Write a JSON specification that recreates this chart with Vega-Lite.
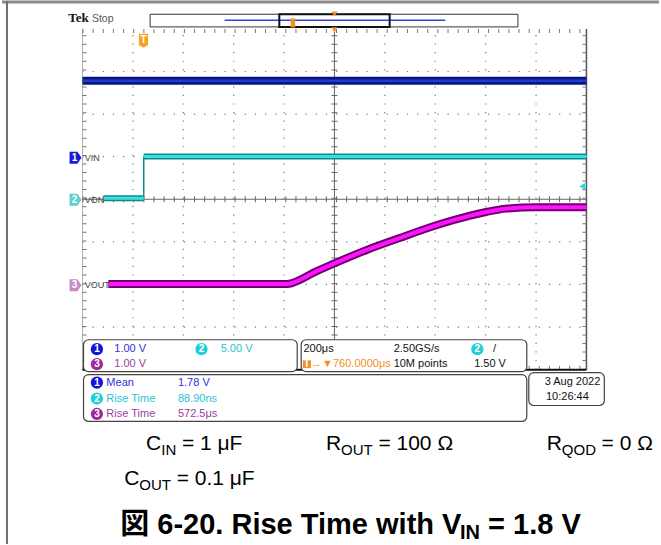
{
  "$schema": "https://vega.github.io/schema/vega-lite/v6.json",
  "width": 661,
  "height": 545,
  "autosize": {"type": "fit", "contains": "padding"},
  "padding": 0,
  "background": "white",
  "config": {"view": {"stroke": null}},
  "datasets": {
    "segs": [
      {"kind": "frameT", "x": -559.5, "y": 4.632, "x2": 2048, "y2": 4.632},
      {"kind": "frameL", "x": -539.8, "y": 4.655, "x2": -539.8, "y2": -8.094},
      {"kind": "vgrid", "x": -40, "y": -4, "x2": -40, "y2": 4},
      {"kind": "vgrid", "x": 160, "y": -4, "x2": 160, "y2": 4},
      {"kind": "vgrid", "x": 360, "y": -4, "x2": 360, "y2": 4},
      {"kind": "vgrid", "x": 560, "y": -4, "x2": 560, "y2": 4},
      {"kind": "vgrid", "x": 960, "y": -4, "x2": 960, "y2": 4},
      {"kind": "vgrid", "x": 1160, "y": -4, "x2": 1160, "y2": 4},
      {"kind": "vgrid", "x": 1360, "y": -4, "x2": 1360, "y2": 4},
      {"kind": "vgrid", "x": 1560, "y": -4, "x2": 1560, "y2": 4},
      {"kind": "hgrid", "x": -240, "y": 3, "x2": 1760, "y2": 3},
      {"kind": "hgrid", "x": -240, "y": 2, "x2": 1760, "y2": 2},
      {"kind": "hgrid", "x": -240, "y": 1, "x2": 1760, "y2": 1},
      {"kind": "hgrid", "x": -240, "y": -1, "x2": 1760, "y2": -1},
      {"kind": "hgrid", "x": -240, "y": -2, "x2": 1760, "y2": -2},
      {"kind": "hgrid", "x": -240, "y": -3, "x2": 1760, "y2": -3},
      {"kind": "center", "x": 760, "y": -4, "x2": 760, "y2": 4},
      {"kind": "center", "x": -240, "y": 0, "x2": 1760, "y2": 0},
      {"kind": "ht6", "x": -240, "y": 0, "x2": 1760, "y2": 0},
      {"kind": "vt6", "x": 760, "y": -4, "x2": 760, "y2": 4},
      {"kind": "ht3", "x": -240, "y": 3.953, "x2": 1760, "y2": 3.953},
      {"kind": "ht3", "x": -240, "y": -3.953, "x2": 1760, "y2": -3.953},
      {"kind": "vt3", "x": -232.1, "y": -4, "x2": -232.1, "y2": 4},
      {"kind": "vt3", "x": 1752.1, "y": -4, "x2": 1752.1, "y2": 4},
      {"kind": "edgeL", "x": -240, "y": -4, "x2": -240, "y2": 4},
      {"kind": "edgeR", "x": 1760, "y": -4, "x2": 1760, "y2": 4},
      {"kind": "bot", "x": -240, "y": -4, "x2": 1760, "y2": -4},
      {"kind": "rise", "x": 3, "y": 0.023, "x2": 3, "y2": 1.006},
      {"kind": "recline", "x": 324.1, "y": 4.204, "x2": 1199.9, "y2": 4.204}
    ],
    "traces": [
      {"ch": "1", "seg": "a", "x": -240, "y": 2.784},
      {"ch": "1", "seg": "a", "x": 1760, "y": 2.784},
      {"ch": "2", "seg": "lo", "x": -157.1, "y": 0.023},
      {"ch": "2", "seg": "lo", "x": 3, "y": 0.023},
      {"ch": "2", "seg": "hi", "x": 3, "y": 1.006},
      {"ch": "2", "seg": "hi", "x": 1760, "y": 1.006},
      {"ch": "3", "seg": "a", "x": -137.4, "y": -1.99},
      {"ch": "3", "seg": "a", "x": 572.7, "y": -1.99},
      {"ch": "3", "seg": "a", "x": 623.8, "y": -1.89},
      {"ch": "3", "seg": "a", "x": 675.2, "y": -1.73},
      {"ch": "3", "seg": "a", "x": 762.0, "y": -1.5},
      {"ch": "3", "seg": "a", "x": 888.2, "y": -1.19},
      {"ch": "3", "seg": "a", "x": 1018.4, "y": -0.91},
      {"ch": "3", "seg": "a", "x": 1164.4, "y": -0.61},
      {"ch": "3", "seg": "a", "x": 1294.6, "y": -0.39},
      {"ch": "3", "seg": "a", "x": 1361.6, "y": -0.3},
      {"ch": "3", "seg": "a", "x": 1440.5, "y": -0.22},
      {"ch": "3", "seg": "a", "x": 1558.9, "y": -0.19},
      {"ch": "3", "seg": "a", "x": 1760, "y": -0.19}
    ],
    "boxes": [
      {"kind": "rec", "x": 28.3, "y": 4.344, "x2": 1488.2, "y2": 4.047},
      {"kind": "bracket", "x": 541.1, "y": 4.344, "x2": 979, "y2": 4.047},
      {"kind": "panel", "x": -236.0, "y": -3.298, "x2": 612.1, "y2": -4.047},
      {"kind": "panel", "x": 627.9, "y": -3.298, "x2": 1523.3, "y2": -4.047},
      {"kind": "panel", "x": -236.0, "y": -4.117, "x2": 1523.3, "y2": -5.216},
      {"kind": "panel", "x": 1531.2, "y": -4.07, "x2": 1831.0, "y2": -4.842}
    ],
    "pts": [
      {"kind": "tag", "x": -267.6, "y": 0.975, "ch": "1"},
      {"kind": "tag", "x": -267.6, "y": -0.012, "ch": "2"},
      {"kind": "tag", "x": -267.6, "y": -2.019, "ch": "3"},
      {"kind": "trig", "x": 2, "y": 3.719},
      {"kind": "tri", "x": 760, "y": 3.977},
      {"kind": "tri", "x": 760, "y": 4.35},
      {"kind": "lvl", "x": 1743.1, "y": 0.304},
      {"kind": "mini", "x": 595, "y": 4.14},
      {"kind": "ttag", "x": 650.4, "y": -3.871},
      {"kind": "badge", "x": -182.8, "y": -3.52, "ch": "1"},
      {"kind": "badge", "x": 232.2, "y": -3.52, "ch": "2"},
      {"kind": "badge", "x": -182.8, "y": -3.871, "ch": "3"},
      {"kind": "badge", "x": 1327, "y": -3.52, "ch": "2"},
      {"kind": "badge", "x": -182.8, "y": -4.304, "ch": "1"},
      {"kind": "badge", "x": -182.8, "y": -4.678, "ch": "2"},
      {"kind": "badge", "x": -182.8, "y": -5.041, "ch": "3"}
    ],
    "texts": [
      {"kind": "tek", "x": -296.4, "y": 4.164, "label": "Tek"},
      {"kind": "stop", "x": -202.5, "y": 4.164, "label": "Stop"},
      {"kind": "chlab", "x": -231, "y": 0.975, "label": "VIN"},
      {"kind": "chlab", "x": -231, "y": -0.012, "label": "VON"},
      {"kind": "chlab", "x": -231, "y": -2.019, "label": "VOUT"},
      {"kind": "tagnum", "x": -271.5, "y": 0.975, "label": "1"},
      {"kind": "tagnum", "x": -271.5, "y": -0.012, "label": "2"},
      {"kind": "tagnum", "x": -271.5, "y": -2.019, "label": "3"},
      {"kind": "trigT", "x": 2, "y": 3.74, "label": "T"},
      {"kind": "trigT", "x": 650.4, "y": -3.871, "label": "T"},
      {"kind": "badgenum", "x": -182.8, "y": -3.52, "label": "1"},
      {"kind": "badgenum", "x": 232.2, "y": -3.52, "label": "2"},
      {"kind": "badgenum", "x": -182.8, "y": -3.871, "label": "3"},
      {"kind": "badgenum", "x": 1327, "y": -3.52, "label": "2"},
      {"kind": "badgenum", "x": -182.8, "y": -4.304, "label": "1"},
      {"kind": "badgenum", "x": -182.8, "y": -4.678, "label": "2"},
      {"kind": "badgenum", "x": -182.8, "y": -5.041, "label": "3"},
      {"kind": "scope", "x": -113.7, "y": -3.52, "label": "1.00 V", "ch": "1"},
      {"kind": "scope", "x": 308.4, "y": -3.52, "label": "5.00 V", "ch": "2"},
      {"kind": "scope", "x": -113.7, "y": -3.871, "label": "1.00 V", "ch": "3"},
      {"kind": "scope", "x": 637, "y": -3.52, "label": "200μs", "ch": "0"},
      {"kind": "scope", "x": 994.8, "y": -3.52, "label": "2.50GS/s", "ch": "0"},
      {"kind": "scope", "x": 1389.2, "y": -3.52, "label": "/", "ch": "0"},
      {"kind": "scope", "x": 667.3, "y": -3.871, "label": "→▼760.0000μs", "ch": "T"},
      {"kind": "scope", "x": 994.8, "y": -3.871, "label": "10M points", "ch": "0"},
      {"kind": "scope", "x": 1314.4, "y": -3.871, "label": "1.50 V", "ch": "0"},
      {"kind": "scope", "x": -145.3, "y": -4.304, "label": "Mean", "ch": "1"},
      {"kind": "scope", "x": 138.7, "y": -4.304, "label": "1.78 V", "ch": "1"},
      {"kind": "scope", "x": -145.3, "y": -4.678, "label": "Rise Time", "ch": "2"},
      {"kind": "scope", "x": 138.7, "y": -4.678, "label": "88.90ns", "ch": "2"},
      {"kind": "scope", "x": -145.3, "y": -5.041, "label": "Rise Time", "ch": "3"},
      {"kind": "scope", "x": 138.7, "y": -5.041, "label": "572.5μs", "ch": "3"},
      {"kind": "scope", "x": 1599.5, "y": -4.643, "label": "10:26:44", "ch": "0"},
      {"kind": "scopeR", "x": 1815.2, "y": -4.292, "label": "3 Aug 2022"},
      {"kind": "body", "x": 12.5, "y": -5.895, "label": "C"},
      {"kind": "sub", "x": 72.5, "y": -6.012, "label": "IN"},
      {"kind": "body", "x": 154.5, "y": -5.895, "label": "= 1 μF"},
      {"kind": "body", "x": 726.5, "y": -5.895, "label": "R"},
      {"kind": "sub", "x": 786.4, "y": -6.012, "label": "OUT"},
      {"kind": "body", "x": 934.4, "y": -5.895, "label": "= 100 Ω"},
      {"kind": "body", "x": 1602.2, "y": -5.895, "label": "R"},
      {"kind": "sub", "x": 1662.2, "y": -6.012, "label": "QOD"},
      {"kind": "body", "x": 1820.0, "y": -5.895, "label": "= 0 Ω"},
      {"kind": "body", "x": -74.3, "y": -6.713, "label": "C"},
      {"kind": "sub", "x": -14.3, "y": -6.83, "label": "OUT"},
      {"kind": "body", "x": 133.6, "y": -6.713, "label": "= 0.1 μF"},
      {"kind": "title", "x": -90.1, "y": -7.86, "label": "図 6-20. Rise Time with V"},
      {"kind": "titlesub", "x": 1257.9, "y": -7.977, "label": "IN"},
      {"kind": "title", "x": 1369.5, "y": -7.86, "label": "= 1.8 V"}
    ]
  },
  "encoding": {
    "x": {"field": "x", "type": "quantitative", "scale": {"domain": [-559.5, 2048], "nice": false, "zero": false}, "axis": null},
    "y": {"field": "y", "type": "quantitative", "scale": {"domain": [-8.094, 4.655], "nice": false, "zero": false}, "axis": null}
  },
  "resolve": {"scale": {"color": "independent"}},
  "layer": [
    {"data": {"name": "segs"}, "transform": [{"filter": "datum.kind == 'frameT'"}], "mark": {"type": "rule", "color": "#8a8a8a", "strokeWidth": 3}, "encoding": {"x2": {"field": "x2"}, "y2": {"field": "y2"}}},
    {"data": {"name": "segs"}, "transform": [{"filter": "datum.kind == 'frameL'"}], "mark": {"type": "rule", "color": "#6e6e6e", "strokeWidth": 2}, "encoding": {"x2": {"field": "x2"}, "y2": {"field": "y2"}}},
    {"data": {"name": "segs"}, "transform": [{"filter": "datum.kind == 'vgrid'"}], "mark": {"type": "rule", "color": "#7a7a7a", "strokeWidth": 1.2, "strokeDash": [1.2, 7.35]}, "encoding": {"x2": {"field": "x2"}, "y2": {"field": "y2"}}},
    {"data": {"name": "segs"}, "transform": [{"filter": "datum.kind == 'hgrid'"}], "mark": {"type": "rule", "color": "#7a7a7a", "strokeWidth": 1.2, "strokeDash": [1.2, 8.94]}, "encoding": {"x2": {"field": "x2"}, "y2": {"field": "y2"}}},
    {"data": {"name": "segs"}, "transform": [{"filter": "datum.kind == 'edgeL'"}], "mark": {"type": "rule", "color": "#b0b0b0", "strokeWidth": 1}, "encoding": {"x2": {"field": "x2"}, "y2": {"field": "y2"}}},
    {"data": {"name": "segs"}, "transform": [{"filter": "datum.kind == 'edgeR'"}], "mark": {"type": "rule", "color": "#555555", "strokeWidth": 1.5}, "encoding": {"x2": {"field": "x2"}, "y2": {"field": "y2"}}},
    {"data": {"name": "segs"}, "transform": [{"filter": "datum.kind == 'center'"}], "mark": {"type": "rule", "color": "#666666", "strokeWidth": 1}, "encoding": {"x2": {"field": "x2"}, "y2": {"field": "y2"}}},
    {"data": {"name": "segs"}, "transform": [{"filter": "datum.kind == 'ht6'"}], "mark": {"type": "rule", "color": "#666666", "strokeWidth": 6, "strokeDash": [1, 9.14]}, "encoding": {"x2": {"field": "x2"}, "y2": {"field": "y2"}}},
    {"data": {"name": "segs"}, "transform": [{"filter": "datum.kind == 'vt6'"}], "mark": {"type": "rule", "color": "#666666", "strokeWidth": 6, "strokeDash": [1, 7.55]}, "encoding": {"x2": {"field": "x2"}, "y2": {"field": "y2"}}},
    {"data": {"name": "segs"}, "transform": [{"filter": "datum.kind == 'ht3'"}], "mark": {"type": "rule", "color": "#777777", "strokeWidth": 4, "strokeDash": [1, 9.14]}, "encoding": {"x2": {"field": "x2"}, "y2": {"field": "y2"}}},
    {"data": {"name": "segs"}, "transform": [{"filter": "datum.kind == 'vt3'"}], "mark": {"type": "rule", "color": "#777777", "strokeWidth": 4, "strokeDash": [1, 7.55]}, "encoding": {"x2": {"field": "x2"}, "y2": {"field": "y2"}}},
    {"data": {"name": "segs"}, "transform": [{"filter": "datum.kind == 'bot'"}], "mark": {"type": "rule", "color": "#111111", "strokeWidth": 2}, "encoding": {"x2": {"field": "x2"}, "y2": {"field": "y2"}}},
    {"data": {"name": "traces"}, "transform": [{"filter": "datum.ch == '1'"}], "mark": {"type": "line", "color": "#0a1482", "strokeWidth": 8}, "encoding": {}},
    {"data": {"name": "traces"}, "transform": [{"filter": "datum.ch == '1'"}], "mark": {"type": "line", "color": "#1e3cc8", "strokeWidth": 2.5}, "encoding": {}},
    {"data": {"name": "segs"}, "transform": [{"filter": "datum.kind == 'rise'"}], "mark": {"type": "rule", "color": "#0b8c8c", "strokeWidth": 1.5}, "encoding": {"x2": {"field": "x2"}, "y2": {"field": "y2"}}},
    {"data": {"name": "traces"}, "transform": [{"filter": "datum.ch == '2'"}], "mark": {"type": "line", "color": "#0b8c8c", "strokeWidth": 6, "strokeCap": "butt"}, "encoding": {"detail": {"field": "seg"}}},
    {"data": {"name": "traces"}, "transform": [{"filter": "datum.ch == '2'"}], "mark": {"type": "line", "color": "#3fdede", "strokeWidth": 3, "strokeCap": "butt"}, "encoding": {"detail": {"field": "seg"}}},
    {"data": {"name": "traces"}, "transform": [{"filter": "datum.ch == '3'"}], "mark": {"type": "line", "color": "#6e006e", "strokeWidth": 8, "interpolate": "monotone"}, "encoding": {}},
    {"data": {"name": "traces"}, "transform": [{"filter": "datum.ch == '3'"}], "mark": {"type": "line", "color": "#ff14ff", "strokeWidth": 4, "interpolate": "monotone"}, "encoding": {}},
    {"data": {"name": "boxes"}, "transform": [{"filter": "datum.kind == 'rec'"}], "mark": {"type": "rect", "fill": "white", "stroke": "#333333", "strokeWidth": 1}, "encoding": {"x2": {"field": "x2"}, "y2": {"field": "y2"}}},
    {"data": {"name": "segs"}, "transform": [{"filter": "datum.kind == 'recline'"}], "mark": {"type": "rule", "color": "#3344dd", "strokeWidth": 1.5}, "encoding": {"x2": {"field": "x2"}, "y2": {"field": "y2"}}},
    {"data": {"name": "boxes"}, "transform": [{"filter": "datum.kind == 'bracket'"}], "mark": {"type": "rect", "fill": null, "fillOpacity": 0, "stroke": "#111111", "strokeWidth": 2}, "encoding": {"x2": {"field": "x2"}, "y2": {"field": "y2"}}},
    {"data": {"name": "boxes"}, "transform": [{"filter": "datum.kind == 'panel'"}], "mark": {"type": "rect", "fill": "white", "stroke": "#444444", "strokeWidth": 1.2, "cornerRadius": 5}, "encoding": {"x2": {"field": "x2"}, "y2": {"field": "y2"}}},
    {"data": {"name": "pts"}, "transform": [{"filter": "datum.kind == 'tag'"}], "mark": {"type": "point", "filled": true, "opacity": 1, "shape": "M-1,-1L0.3,-1L1,0L0.3,1L-1,1Z", "size": 144}, "encoding": {"color": {"field": "ch", "type": "nominal", "scale": {"domain": ["1", "2", "3"], "range": ["#1a1ad6", "#5ccfd0", "#c48ac4"]}, "legend": null}}},
    {"data": {"name": "pts"}, "transform": [{"filter": "datum.kind == 'badge'"}], "mark": {"type": "point", "filled": true, "opacity": 1, "shape": "circle", "size": 150}, "encoding": {"color": {"field": "ch", "type": "nominal", "scale": {"domain": ["1", "2", "3"], "range": ["#1414d2", "#1fd0dc", "#9b2a9b"]}, "legend": null}}},
    {"data": {"name": "pts"}, "transform": [{"filter": "datum.kind == 'trig'"}], "mark": {"type": "point", "filled": true, "opacity": 1, "color": "#f7a21b", "shape": "M-0.65,-1L0.65,-1L0.65,0.6L0,1L-0.65,0.6Z", "size": 196}},
    {"data": {"name": "pts"}, "transform": [{"filter": "datum.kind == 'ttag'"}], "mark": {"type": "point", "filled": true, "opacity": 1, "color": "#f39020", "shape": "square", "size": 64}},
    {"data": {"name": "pts"}, "transform": [{"filter": "datum.kind == 'tri'"}], "mark": {"type": "point", "filled": true, "opacity": 1, "color": "#f39020", "shape": "triangle-down", "size": 36}},
    {"data": {"name": "pts"}, "transform": [{"filter": "datum.kind == 'mini'"}], "mark": {"type": "point", "filled": true, "opacity": 1, "color": "#f39020", "shape": "M-0.5,-1L0.5,-1L0.5,1L-0.5,1Z", "size": 81}},
    {"data": {"name": "pts"}, "transform": [{"filter": "datum.kind == 'lvl'"}], "mark": {"type": "point", "filled": true, "opacity": 1, "color": "#22d8e8", "shape": "triangle-left", "size": 45}},
    {"data": {"name": "texts"}, "transform": [{"filter": "datum.kind == 'tek'"}], "mark": {"type": "text", "font": "Liberation Serif", "fontWeight": "bold", "fontSize": 13, "align": "left", "baseline": "alphabetic", "color": "#111111"}, "encoding": {"text": {"field": "label"}}},
    {"data": {"name": "texts"}, "transform": [{"filter": "datum.kind == 'stop'"}], "mark": {"type": "text", "font": "Liberation Sans", "fontSize": 10.5, "align": "left", "baseline": "alphabetic", "color": "#555555"}, "encoding": {"text": {"field": "label"}}},
    {"data": {"name": "texts"}, "transform": [{"filter": "datum.kind == 'chlab'"}], "mark": {"type": "text", "font": "Liberation Sans", "fontSize": 9, "align": "left", "baseline": "middle", "color": "#444444"}, "encoding": {"text": {"field": "label"}}},
    {"data": {"name": "texts"}, "transform": [{"filter": "datum.kind == 'tagnum' || datum.kind == 'badgenum' || datum.kind == 'trigT'"}], "mark": {"type": "text", "font": "Liberation Sans", "fontWeight": "bold", "fontSize": 10, "align": "center", "baseline": "middle", "color": "white"}, "encoding": {"text": {"field": "label"}}},
    {"data": {"name": "texts"}, "transform": [{"filter": "datum.kind == 'scope'"}], "mark": {"type": "text", "font": "Liberation Sans", "fontSize": 11, "align": "left", "baseline": "middle"}, "encoding": {"text": {"field": "label"}, "color": {"field": "ch", "type": "nominal", "scale": {"domain": ["0", "1", "2", "3", "T"], "range": ["#111111", "#3030dd", "#28c4d4", "#a23aa8", "#f39020"]}, "legend": null}}},
    {"data": {"name": "texts"}, "transform": [{"filter": "datum.kind == 'scopeR'"}], "mark": {"type": "text", "font": "Liberation Sans", "fontSize": 11, "align": "right", "baseline": "middle", "color": "#111111"}, "encoding": {"text": {"field": "label"}}},
    {"data": {"name": "texts"}, "transform": [{"filter": "datum.kind == 'body'"}], "mark": {"type": "text", "font": "Liberation Sans", "fontSize": 21, "align": "left", "baseline": "alphabetic", "color": "#000000"}, "encoding": {"text": {"field": "label"}}},
    {"data": {"name": "texts"}, "transform": [{"filter": "datum.kind == 'sub'"}], "mark": {"type": "text", "font": "Liberation Sans", "fontSize": 15, "align": "left", "baseline": "alphabetic", "color": "#000000"}, "encoding": {"text": {"field": "label"}}},
    {"data": {"name": "texts"}, "transform": [{"filter": "datum.kind == 'title'"}], "mark": {"type": "text", "font": "Liberation Sans, Noto Sans CJK JP", "fontWeight": "bold", "fontSize": 29, "align": "left", "baseline": "alphabetic", "color": "#000000"}, "encoding": {"text": {"field": "label"}}},
    {"data": {"name": "texts"}, "transform": [{"filter": "datum.kind == 'titlesub'"}], "mark": {"type": "text", "font": "Liberation Sans", "fontWeight": "bold", "fontSize": 20, "align": "left", "baseline": "alphabetic", "color": "#000000"}, "encoding": {"text": {"field": "label"}}}
  ]
}
